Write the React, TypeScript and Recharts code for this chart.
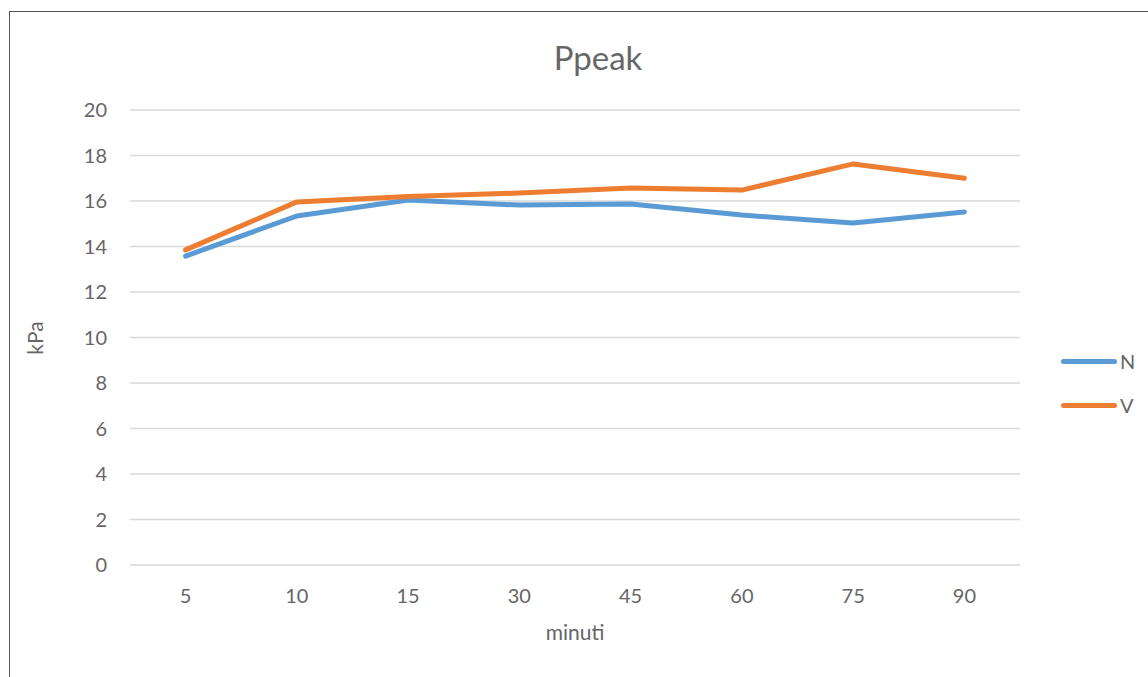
import React from 'react';
import { LineChart, Line, XAxis, YAxis, CartesianGrid, Legend } from 'recharts';

const minutes = ['5', '10', '15', '30', '45', '60', '75', '90'];
const seriesN = [13.58, 15.34, 16.04, 15.82, 15.87, 15.38, 15.03, 15.52];
const seriesV = [13.85, 15.96, 16.2, 16.35, 16.57, 16.48, 17.63, 17.0];
const yTicks = [0, 2, 4, 6, 8, 10, 12, 14, 16, 18, 20];

const data = minutes.map((m, i) => ({ minuti: m, N: seriesN[i], V: seriesV[i] }));

const FONT = 'Lato, "Open Sans", sans-serif';
const TEXT = '#666666';

const SideLegend = ({ payload }: any) => (
  <div style={{ fontFamily: FONT, fontSize: 20, color: TEXT }}>
    {payload?.map((entry: any) => (
      <div key={entry.value} style={{ display: 'flex', alignItems: 'center', height: 44 }}>
        <div style={{ width: 56, height: 5, borderRadius: 3, background: entry.color, marginRight: 3 }} />
        <span>{entry.value}</span>
      </div>
    ))}
  </div>
);

export default function App() {
  return (
    <div style={{ position: 'fixed', inset: 0, overflow: 'hidden', background: '#fff' }}>
      <div
        style={{
          position: 'absolute',
          left: 9,
          top: 11,
          width: 1160,
          height: 680,
          border: '1px solid #555',
          background: '#fff',
        }}
      >
        {/* legend width (80) is taken out of the right side, so margin.right is reduced by it */}
        <LineChart
          width={1145}
          height={670}
          data={data}
          margin={{ top: 98, right: 55, left: 0, bottom: 0 }}
        >
          <text x={588} y={50} textAnchor="middle" dominantBaseline="middle" fontFamily={FONT} fontSize={33} fill={TEXT}>
            Ppeak
          </text>
          <text x={28} y={326} textAnchor="middle" dominantBaseline="middle" fontFamily={FONT} fontSize={21} fill={TEXT} transform="rotate(-90 28 326)">
            kPa
          </text>
          <text x={565} y={623} textAnchor="middle" dominantBaseline="middle" fontFamily={FONT} fontSize={21} fill={TEXT}>
            minuti
          </text>
          <CartesianGrid horizontal vertical={false} stroke="#d9d9d9" strokeWidth={1.5} />
          <XAxis
            dataKey="minuti"
            height={117}
            axisLine={false}
            tickLine={false}
            tickSize={0}
            tickMargin={24}
            padding={{ left: 55.6, right: 55.6 }}
            tick={{ fill: TEXT, fontSize: 20, fontFamily: FONT }}
          />
          <YAxis
            width={120}
            domain={[0, 20]}
            ticks={yTicks}
            axisLine={false}
            tickLine={false}
            tickSize={0}
            tickMargin={23}
            tick={{ fill: TEXT, fontSize: 20, fontFamily: FONT }}
          />
          <Legend
            layout="vertical"
            align="right"
            verticalAlign="top"
            content={<SideLegend />}
            wrapperStyle={{ left: 1051, top: 327, width: 80 }}
          />
          <Line dataKey="N" stroke="#5b9bd5" strokeWidth={5} strokeLinecap="round" strokeLinejoin="round" dot={false} isAnimationActive={false} />
          <Line dataKey="V" stroke="#ed7d31" strokeWidth={5} strokeLinecap="round" strokeLinejoin="round" dot={false} isAnimationActive={false} />
        </LineChart>
      </div>
    </div>
  );
}
